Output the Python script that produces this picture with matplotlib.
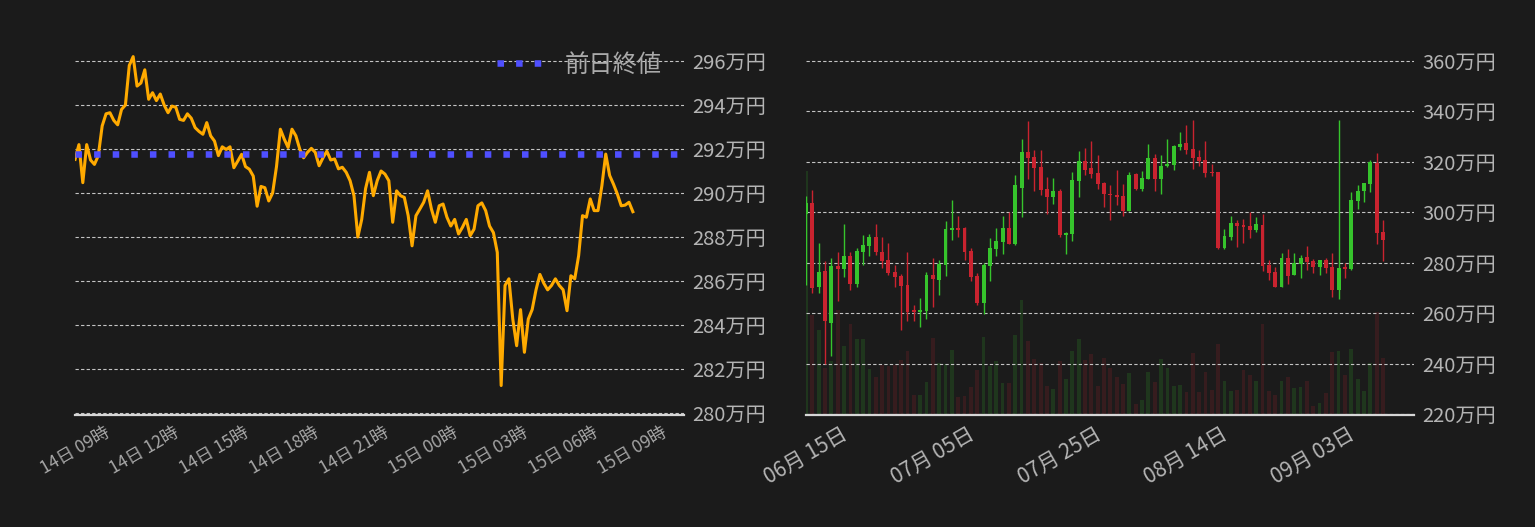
import matplotlib
matplotlib.use("Agg")
import matplotlib.pyplot as plt
import matplotlib.dates as mdates
import numpy as np
import pandas as pd

plt.rcParams['font.family'] = ['Noto Sans CJK JP', 'DejaVu Sans']

# --- 24h price (10 min steps), in 万円 ---
intraday_start = "2022-09-14 09:00"
intraday_price = [
    291.53, 292.2, 290.47, 292.2, 291.5, 291.3, 291.7, 293.05, 293.6, 293.65,
    293.3, 293.1, 293.8, 294.0, 295.8, 296.2, 294.86, 295.0, 295.6, 294.26,
    294.56, 294.2, 294.5, 294.0, 293.65, 293.95, 293.9, 293.35, 293.3, 293.6,
    293.4, 292.97, 292.8, 292.67, 293.2, 292.6, 292.36, 291.7, 292.1, 291.98,
    292.1, 291.15, 291.45, 291.76, 291.2, 291.08, 290.77, 289.4, 290.3, 290.24,
    289.64, 290.0, 291.2, 292.9, 292.45, 292.07, 292.9, 292.6, 292.0, 291.6,
    291.85, 292.03, 291.85, 291.24, 291.6, 291.9, 291.5, 291.55, 291.1, 291.17,
    290.94, 290.56, 289.88, 288.0, 288.8, 290.2, 290.94, 289.88, 290.56, 291.0,
    290.86, 290.56, 288.67, 290.1, 289.88, 289.8, 288.97, 287.6, 288.97, 289.27,
    289.58, 290.1, 289.27, 288.67, 289.42, 289.5, 288.9, 288.5, 288.8, 288.14,
    288.44, 288.8, 288.06, 288.36, 289.42, 289.55, 289.2, 288.5, 288.2, 287.3,
    281.25, 285.8, 286.1, 284.27, 283.06, 284.7, 282.76, 284.27, 284.7, 285.6,
    286.3, 285.9, 285.6, 285.8, 286.1, 285.8, 285.6, 284.65, 286.24, 286.1,
    287.15, 288.97, 288.9, 289.73, 289.2, 289.2, 290.33, 291.77, 290.8, 290.4,
    289.95, 289.42, 289.45, 289.58, 289.15,
]
prev_close = 291.76
intraday_ticks = pd.date_range("2022-09-14 09:00", periods=9, freq="3h")
intraday_yticks = [280, 282, 284, 286, 288, 290, 292, 294, 296]

# --- daily candles, in 万円 ---
daily_start = "2022-06-15"
opens = [299.1, 303.7, 270.3, 276.6, 256.2, 278.6, 277.4, 282.5, 271.5, 284.4,
         286.8, 290.3, 284.4, 280.9, 276.2, 274.6, 271.1, 261.3, 260.5, 260.9,
         275.0, 273.1, 279.0, 293.1, 293.9, 293.6, 284.5, 274.6, 263.9, 278.5,
         285.3, 288.1, 293.6, 287.3, 309.8, 323.7, 321.7, 317.8, 309.4, 305.9,
         308.3, 290.8, 291.2, 312.2, 320.5, 317.4, 315.4, 311.4, 307.1, 306.7,
         306.3, 300.3, 315.0, 309.4, 313.0, 321.3, 313.0, 318.2, 318.9, 325.7,
         327.3, 324.9, 321.7, 320.9, 315.8, 315.8, 285.7, 290.0, 295.6, 294.8,
         294.4, 292.8, 294.8, 278.9, 276.2, 270.2, 281.7, 275.0, 279.3, 282.1,
         280.5, 278.2, 280.9, 278.2, 269.0, 278.2, 277.4, 304.3, 308.3, 311.0,
         319.7, 292.0]
highs = [306.4, 308.8, 287.6, 280.5, 281.7, 284.4, 295.4, 284.1, 286.0, 291.1,
         291.5, 295.4, 290.3, 287.6, 279.0, 275.4, 284.1, 263.3, 266.0, 276.2,
         281.7, 280.9, 296.6, 304.8, 298.6, 294.0, 285.7, 275.8, 279.7, 289.6,
         293.6, 298.7, 299.9, 314.6, 329.2, 336.0, 324.5, 324.5, 313.8, 313.4,
         309.4, 292.0, 315.8, 324.1, 325.3, 328.4, 322.5, 311.8, 310.6, 316.6,
         311.0, 315.8, 315.4, 316.2, 326.9, 322.9, 322.5, 329.2, 326.5, 332.0,
         334.4, 336.4, 324.5, 328.4, 319.3, 315.8, 293.2, 298.7, 296.8, 297.2,
         299.9, 298.0, 299.1, 280.9, 278.2, 283.7, 285.3, 283.7, 282.9, 286.5,
         281.3, 280.9, 281.7, 283.7, 336.4, 279.7, 307.9, 310.6, 311.4, 320.9,
         323.3, 296.8]
lows = [271.2, 268.0, 268.0, 239.9, 242.9, 264.8, 274.3, 269.2, 270.3, 279.0,
        282.5, 282.9, 277.8, 275.0, 270.3, 253.5, 257.0, 257.0, 254.3, 257.8,
        262.5, 267.2, 274.6, 288.8, 290.3, 280.9, 272.6, 263.1, 259.5, 272.6,
        282.5, 283.3, 287.3, 286.9, 298.0, 313.0, 308.6, 306.7, 299.1, 303.1,
        290.0, 283.3, 288.5, 305.9, 314.6, 313.4, 309.4, 301.9, 296.8, 302.7,
        298.4, 300.3, 309.0, 308.3, 313.0, 308.6, 307.1, 317.8, 316.6, 324.5,
        322.9, 317.0, 318.2, 313.8, 314.2, 285.3, 285.3, 288.8, 286.1, 287.7,
        289.6, 292.0, 276.6, 273.0, 270.2, 270.2, 271.4, 275.0, 273.8, 277.0,
        275.8, 275.0, 275.8, 266.3, 265.5, 273.8, 277.0, 301.1, 303.9, 307.9,
        287.3, 280.5]
closes = [303.7, 269.9, 276.2, 256.7, 278.6, 277.4, 282.5, 271.5, 284.8, 287.2,
          290.3, 284.1, 280.5, 275.8, 274.3, 270.7, 260.5, 260.5, 261.3, 275.0,
          273.5, 279.3, 293.5, 293.9, 293.1, 284.1, 274.2, 263.9, 278.9, 285.7,
          288.5, 293.6, 287.3, 310.6, 323.7, 321.3, 317.4, 309.0, 305.9, 308.3,
          290.8, 291.6, 312.6, 320.5, 316.6, 315.0, 311.0, 307.1, 306.7, 305.9,
          300.3, 314.6, 309.4, 313.4, 321.3, 313.0, 318.5, 319.3, 326.1, 326.9,
          324.5, 321.3, 320.5, 315.4, 315.4, 285.7, 290.4, 295.6, 294.4, 294.0,
          292.8, 295.2, 278.5, 275.8, 270.2, 281.7, 274.6, 279.7, 281.7, 280.1,
          278.2, 280.9, 277.8, 269.0, 277.8, 277.4, 304.7, 308.6, 311.4, 320.1,
          291.6, 288.8]
volumes = [243, 100, 85, 47, 54, 105, 69, 91, 76, 76, 46, 38, 50, 49, 50, 55,
           64, 20, 20, 33, 77, 52, 51, 65, 18, 19, 28, 45, 78, 49, 54, 32, 32,
           80, 115, 74, 56, 52, 29, 26, 54, 36, 64, 76, 55, 61, 29, 57, 47, 38,
           31, 42, 11, 15, 43, 33, 56, 47, 29, 30, 23, 62, 23, 43, 25, 71, 34,
           24, 25, 45, 40, 34, 91, 24, 20, 34, 38, 27, 28, 34, 9, 12, 22, 63,
           64, 40, 66, 36, 24, 52, 103, 57]
daily_ticks = pd.date_range("2022-06-15", periods=5, freq="20D")
daily_yticks = [220, 240, 260, 280, 300, 320, 340, 360]

bg = "#1b1b1b"
green = "#36c42c"
red = "#c9232f"
label_col = "#b4b4b4"

fig = plt.figure(figsize=(15.35, 5.27), dpi=100, facecolor=bg)


def style(ax):
    ax.set_facecolor(bg)
    for s in ["top", "left", "right"]:
        ax.spines[s].set_visible(False)
    ax.spines["bottom"].set_color("#d6d6d6")
    ax.spines["bottom"].set_linewidth(1.6)
    ax.grid(axis="y", color="#c4c4c4", linestyle=(0, (3, 2)), linewidth=0.8)
    ax.yaxis.tick_right()
    ax.tick_params(axis="both", length=0, colors=label_col)
    ax.tick_params(axis="y", pad=6, labelsize=14.5)


# left: 24h line
ax1 = fig.add_axes([0.0489, 0.2125, 0.3967, 0.7306])
style(ax1)
t = pd.date_range(intraday_start, periods=len(intraday_price), freq="10min")
ax1.plot(t, intraday_price, color="#ffaa00", lw=2.2, zorder=3)
ax1.axhline(prev_close, color="#4f4fff", lw=4.7, linestyle=(0, (1, 1.85)),
            label="前日終値", zorder=4)
ax1.set_xlim(t[0], t[0] + pd.Timedelta(hours=26.2))
ax1.set_ylim(279.91, 297.41)
ax1.set_yticks(intraday_yticks)
ax1.set_yticklabels([f"{v}万円" for v in intraday_yticks])
ax1.set_xticks(intraday_ticks)
ax1.xaxis.set_major_formatter(mdates.DateFormatter("%d日 %H時"))
ax1.tick_params(axis="x", pad=6, labelsize=12.5, colors="#a6a6a6")
for lb in ax1.get_xticklabels():
    lb.set_rotation(30)
    lb.set_ha("center")
leg = ax1.legend(loc="upper right", frameon=False, fontsize=17.5,
                 handlelength=2.0)
for txt in leg.get_texts():
    txt.set_color("#aaaaaa")

# right: daily candles + volume
ax2 = fig.add_axes([0.5251, 0.2125, 0.3961, 0.7306])
axv = ax2.twinx()
ax2.set_zorder(axv.get_zorder() + 1)
style(ax2)
ax2.patch.set_visible(False)
axv.set_facecolor(bg)
for s in axv.spines.values():
    s.set_visible(False)
axv.set_yticks([])

d = mdates.date2num(pd.date_range(daily_start, periods=len(opens), freq="D"))
o = np.array(opens)
c = np.array(closes)
up = c >= o
cols = np.where(up, green, red)
body_lo = np.minimum(o, c)
body_h = np.maximum(np.abs(c - o), 0.7)
ax2.vlines(d, lows, highs, colors=cols, lw=1.0, zorder=3)
ax2.bar(d, body_h, bottom=body_lo, width=0.62, color=cols, zorder=4)
axv.bar(d, volumes, width=0.6, color=cols, alpha=0.16)
axv.set_ylim(0, max(volumes) * 1.58)

ax2.set_xlim(d[0], d[0] + 95.9)
axv.set_xlim(d[0], d[0] + 95.9)
ax2.set_ylim(219.6, 372.25)
ax2.set_yticks(daily_yticks)
ax2.set_yticklabels([f"{v}万円" for v in daily_yticks])
ax2.set_xticks(mdates.date2num(daily_ticks))
ax2.xaxis.set_major_formatter(mdates.DateFormatter("%m月 %d日"))
ax2.tick_params(axis="x", pad=6, labelsize=15, colors=label_col)
for lb in ax2.get_xticklabels():
    lb.set_rotation(30)
    lb.set_ha("center")

fig.savefig("out.png", dpi=100, facecolor=bg)
